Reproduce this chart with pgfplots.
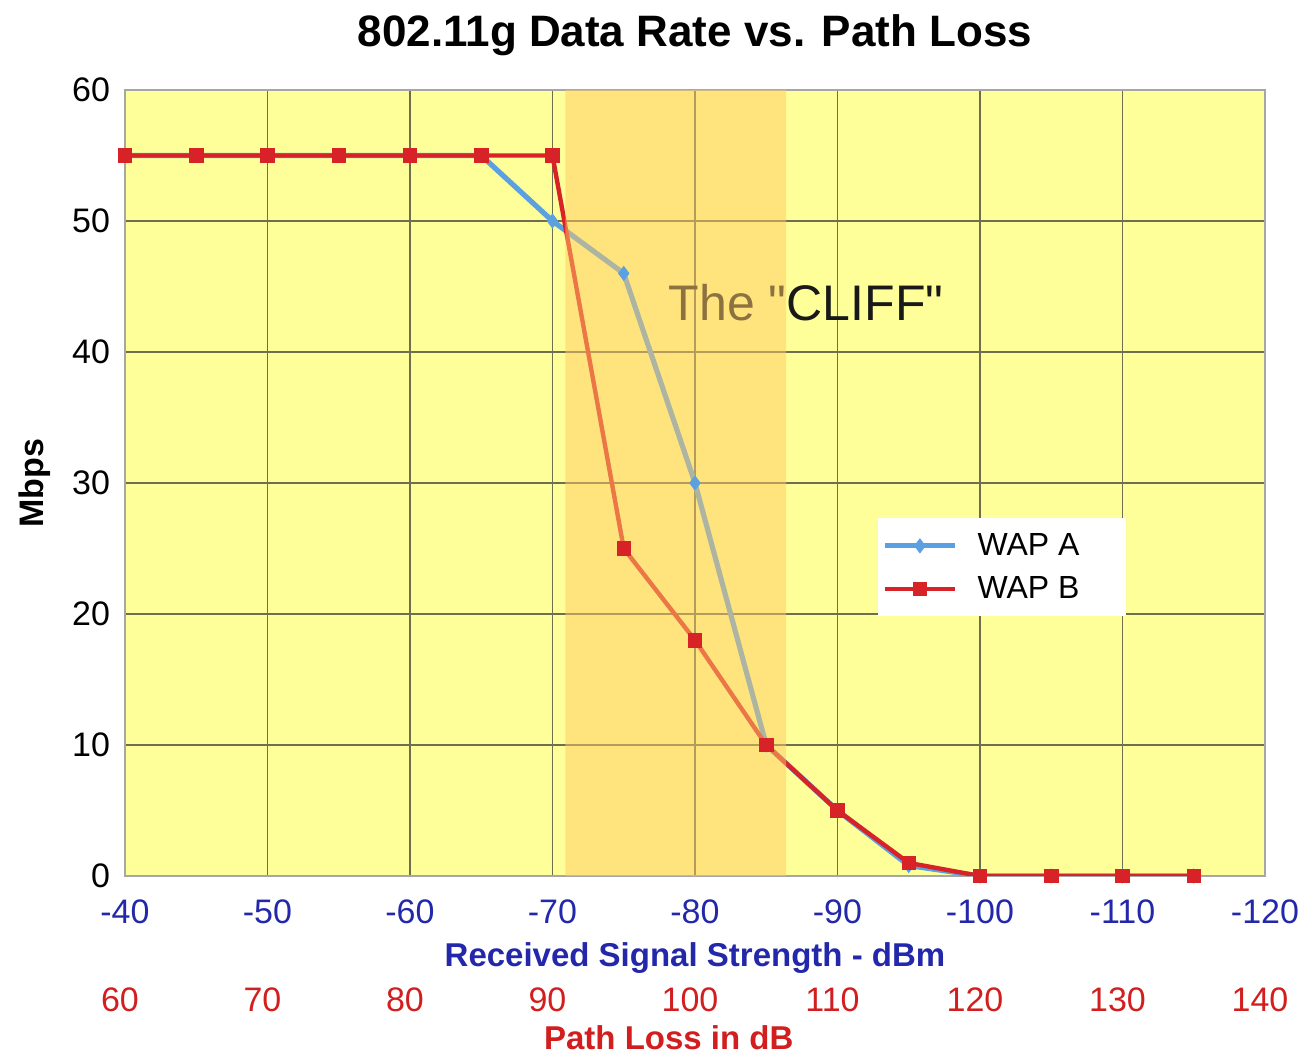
\documentclass[border=0pt]{standalone}
\usepackage{fontspec}
\setmainfont{Liberation Sans}[Ligatures=TeXOff]
\usepackage{pgfplots}
\pgfplotsset{compat=1.18}
\definecolor{bgyellow}{RGB}{255,255,153}
\definecolor{bandorange}{RGB}{255,203,101}
\definecolor{gridcol}{RGB}{110,110,80}
\definecolor{wapa}{RGB}{91,160,225}
\definecolor{wapb}{RGB}{215,35,40}
\definecolor{rssblue}{RGB}{35,40,170}
\definecolor{plred}{RGB}{210,30,30}
\begin{document}
\begin{tikzpicture}
\useasboundingbox (-62.5pt,-89pt) rectangle (588pt,438pt);
\begin{axis}[at={(0,0)}, anchor=south west, scale only axis, width=570pt, height=393pt,
 xmin=-120, xmax=-40, x dir=reverse, ymin=0, ymax=60,
 xtick={-120,-110,...,-40}, xticklabels={-120,-110,-100,-90,-80,-70,-60,-50,-40},
 ytick={0,10,...,60},
 grid=major, major grid style={gridcol, line width=0.9pt},
 axis background/.style={fill=bgyellow},
 axis line style={gray!70, line width=0.8pt},
 major tick length=0pt,
 tick label style={font=\fontsize{17}{20}\selectfont},
 xticklabel style={rssblue, yshift=-8.5pt},
 yticklabel style={black, xshift=-4pt},
 /pgf/number format/assume math mode=true,
 title={802.11g Data Rate vs. Path Loss},
 title style={font=\bfseries\fontsize{22}{26}\selectfont, at={(axis description cs:0.5,1)}, anchor=base, yshift=15.5pt},
 xlabel={Received Signal Strength - dBm},
 xlabel style={font=\bfseries\fontsize{16.5}{19}\selectfont, rssblue, at={(axis description cs:0.5,-0.104)}, anchor=center},
 ylabel={Mbps},
 ylabel style={font=\bfseries\fontsize{17}{20}\selectfont, at={(axis description cs:-0.079,0.5)}, anchor=center},
 legend style={at={(axis description cs:0.6605,0.4555)}, anchor=north west, draw=none, fill=white,
   font=\fontsize{16}{19}\selectfont, inner xsep=2pt, inner ysep=5.5pt, row sep=5pt,
   /tikz/every odd column/.append style={column sep=8pt}},
 legend cell align=left,
 legend image code/.code={\draw[mark repeat=2,mark phase=2] plot coordinates {(0pt,0pt) (17.5pt,0pt) (35pt,0pt)};},
]
\addplot[wapa, line width=2.6pt, mark=diamond*, mark size=3.5pt, mark options={solid, fill=wapa, draw=wapa, line width=0.4pt}]
 coordinates {(-40,55) (-45,55) (-50,55) (-55,55) (-60,55) (-65,55) (-70,50) (-75,46) (-80,30) (-85,10) (-90,5) (-95,0.8) (-100,0) (-105,0) (-110,0) (-115,0)};
\addlegendentry{WAP A\hspace{19pt}\mbox{}}
\addplot[wapb, line width=2.2pt, mark=square*, mark size=3.4pt, mark options={solid, fill=wapb, draw=wapb, line width=0.4pt}]
 coordinates {(-40,55) (-45,55) (-50,55) (-55,55) (-60,55) (-65,55) (-70,55) (-75,25) (-80,18) (-85,10) (-90,5) (-95,1) (-100,0) (-105,0) (-110,0) (-115,0)};
\addlegendentry{WAP B\hspace{19pt}\mbox{}}
\node[font=\fontsize{25}{29}\selectfont, text=black!90] at (axis cs:-87.8,43.8) {The "CLIFF"};
\addplot[draw=none, fill=bandorange, fill opacity=0.5, forget plot]
 coordinates {(-70.9,0) (-70.9,60) (-86.4,60) (-86.4,0)} \closedcycle;
\end{axis}
\begin{axis}[at={(0,0)}, anchor=south west, scale only axis, width=570pt, height=393pt,
 xmin=60, xmax=140, ymin=0, ymax=60, hide y axis, axis line style={draw=none},
 major tick length=0pt, xtick={60,70,...,140},
 xticklabel style={plred, font=\fontsize{17}{20}\selectfont, yshift=-52.5pt, xshift=-2.5pt},
 /pgf/number format/assume math mode=true,
 xlabel={Path Loss in dB},
 xlabel style={plred, font=\bfseries\fontsize{16.5}{19}\selectfont, at={(axis description cs:0.477,-0.206)}, anchor=center},
]
\addplot[draw=none] coordinates {(60,0)};
\end{axis}
\end{tikzpicture}
\end{document}
